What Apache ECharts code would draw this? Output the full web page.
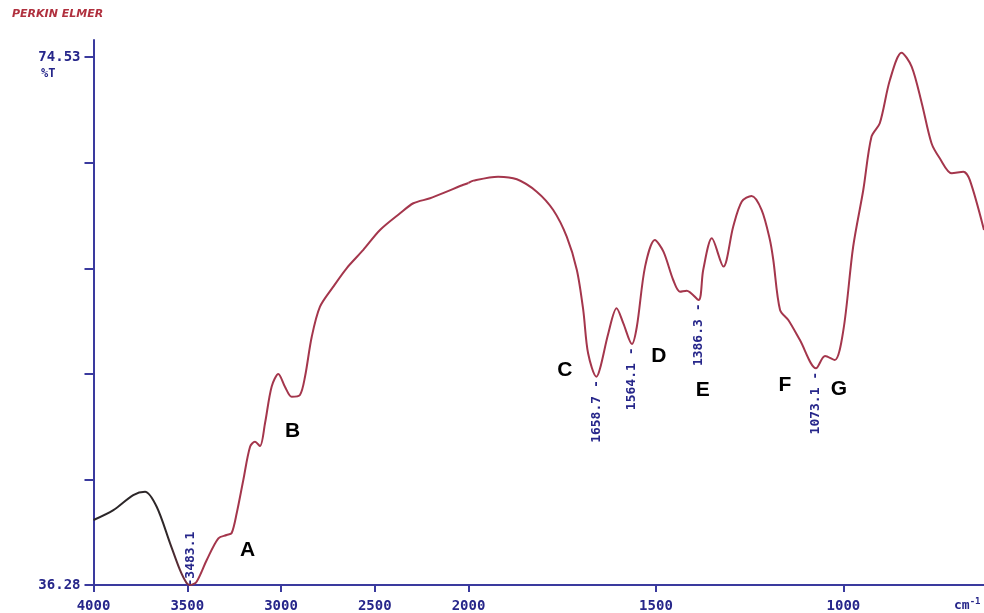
<!DOCTYPE html>
<html>
<head>
<meta charset="utf-8">
<title>IR spectrum</title>
<script src="https://cdn.jsdelivr.net/npm/echarts@6/dist/echarts.min.js"></script>
<style>
  html, body { margin: 0; padding: 0; background: #fff; }
  #chart { width: 984px; height: 613px; }
</style>
</head>
<body>
<div id="chart"></div>
<script>
// Spectrum trace: wavenumber (cm-1) and transmittance (%T)
const wavenumbers = [
  4000, 3894, 3788, 3725, 3663, 3592, 3539, 3503, 3450, 3396, 3334, 3290, 3263,
  3236, 3201, 3165, 3139, 3112, 3085, 3050, 3014, 2979, 2943, 2899, 2872, 2836,
  2792, 2721, 2650, 2561, 2472, 2365, 2294, 2205, 2116, 2045, 2000,
  1987, 1921, 1871, 1818, 1774, 1738, 1711, 1694, 1681, 1649, 1627, 1605, 1587,
  1551, 1529, 1503, 1480, 1454, 1436, 1418, 1374, 1351, 1320, 1294, 1271, 1245,
  1218, 1196, 1187, 1169, 1147, 1116, 1049, 1023, 1000, 974, 947, 925, 903, 876,
  845, 818, 791, 765, 743, 711, 680, 663, 625
];
const transmittance = [
  40.99, 41.71, 42.80, 43.04, 41.95, 39.32, 37.37, 36.42, 36.52, 38.09, 39.66, 39.90, 40.05,
  41.50, 43.89, 46.30, 46.66, 46.35, 48.02, 50.65, 51.57, 50.65, 49.92, 50.05, 51.37, 54.27,
  56.45, 57.90, 59.23, 60.56, 62.00, 63.21, 63.94, 64.30, 64.78, 65.19, 65.41,
  65.58, 65.87, 65.68, 64.78, 63.45, 61.52, 59.11, 56.21, 53.07, 51.98, 54.52, 56.33, 55.24,
  54.99, 59.35, 61.28, 60.43, 58.38, 57.53, 57.61, 59.11, 61.40, 59.35, 62.24, 64.06, 64.47,
  63.45, 61.28, 59.83, 56.21, 55.48, 54.03, 52.87, 52.58, 54.76, 60.79, 64.90, 68.77, 69.74, 72.87,
  74.85, 73.84, 71.19, 68.29, 67.20, 66.11, 66.23, 65.63, 62.00
];

// Labelled band minima
const peakWavenumbers = [3483.1, 1658.7, 1564.1, 1386.3, 1073.1];
const peakTransmittance = [36.28, 51.37, 53.74, 56.93, 51.98];

// Band letters and where they sit on the chart (cm-1, %T)
const bandLetters = ['A', 'B', 'C', 'D', 'E', 'F', 'G'];
const letterWavenumbers = [3178, 2938, 1743, 1492, 1375, 1156, 1012];
const letterTransmittance = [38.82, 47.46, 51.86, 52.87, 50.41, 50.77, 50.48];

// Axis ticks
const xTicksHigh = [4000, 3500, 3000, 2500];
const xTicksLow = [2000, 1500, 1000];
const yTicks = [36.28, 43.93, 51.58, 59.23, 66.88, 74.53];
const yTickLabels = [36.28, 74.53];

const Y_MIN = 36.28, Y_MAX = 75.77;
const SPLIT_WN = 2000;       // scale expands below 2000 cm-1
const LOW_END_WN = 625;

const AXIS_BLUE = '#3a3a9e';
const LABEL_BLUE = '#26268a';
const TRACE_RED = '#a4364c';

// merge the labelled minima into the trace
const trace = wavenumbers.map((w, i) => [w, transmittance[i]])
  .concat(peakWavenumbers.map((w, i) => [w, peakTransmittance[i]]))
  .sort((a, b) => b[0] - a[0]);
const traceHigh = trace.filter(p => p[0] >= SPLIT_WN);
const traceLow = trace.filter(p => p[0] <= SPLIT_WN);

const tickFont = {
  color: LABEL_BLUE, fontFamily: 'DejaVu Sans Mono', fontWeight: 'bold', fontSize: 14
};

const peakLabelBelow = {
  show: true, position: 'bottom', distance: 3, rotate: 90,
  align: 'right', verticalAlign: 'middle',
  color: LABEL_BLUE, fontFamily: 'DejaVu Sans Mono', fontWeight: 'bold', fontSize: 13,
  formatter: p => p.value[0].toFixed(1) + ' -'
};
const peakLabelAbove = Object.assign({}, peakLabelBelow, {
  position: 'top', distance: 1, align: 'left', offset: [-3, 0],
  formatter: p => '-' + p.value[0].toFixed(1)
});

function peakItems(high) {
  return peakWavenumbers
    .map((w, i) => ({ w, t: peakTransmittance[i] }))
    .filter(p => high ? p.w >= SPLIT_WN : p.w < SPLIT_WN)
    .map(p => ({
      value: [p.w, p.t],
      label: p.t <= Y_MIN ? peakLabelAbove : peakLabelBelow
    }));
}
function letterItems(high) {
  return bandLetters
    .map((name, i) => ({ name, value: [letterWavenumbers[i], letterTransmittance[i]] }))
    .filter(p => high ? p.value[0] >= SPLIT_WN : p.value[0] < SPLIT_WN);
}

const letterLabel = {
  show: true, position: 'inside', formatter: p => p.name,
  color: '#000', fontFamily: 'Liberation Sans', fontWeight: 'bold', fontSize: 21
};

// invisible anchor symbols that only carry text
const hiddenMark = { color: 'rgba(0,0,0,0)', opacity: 1 };

function xAxisFor(grid, min, max, ticks) {
  return {
    type: 'value', gridIndex: grid, min, max, inverse: true,
    axisLine: { show: true, lineStyle: { color: AXIS_BLUE, width: 2 } },
    axisTick: { show: true, customValues: ticks, length: 7, lineStyle: { color: AXIS_BLUE, width: 2 } },
    axisLabel: Object.assign({ customValues: ticks, margin: 14, formatter: v => String(v) }, tickFont),
    splitLine: { show: false }
  };
}

const chart = echarts.init(document.getElementById('chart'), null, { renderer: 'canvas' });
chart.setOption({
  animation: false,
  backgroundColor: '#ffffff',
  grid: [
    { left: 93.5, top: 40, width: 375, bottom: 28 },
    { left: 468.5, top: 40, right: 0, bottom: 28 }
  ],
  xAxis: [
    xAxisFor(0, SPLIT_WN, 4000, xTicksHigh),
    xAxisFor(1, LOW_END_WN, SPLIT_WN, xTicksLow)
  ],
  yAxis: [
    {
      type: 'value', gridIndex: 0, min: Y_MIN, max: Y_MAX,
      axisLine: { show: true, lineStyle: { color: AXIS_BLUE, width: 2 } },
      axisTick: { show: true, customValues: yTicks, length: 9, lineStyle: { color: AXIS_BLUE, width: 2 } },
      axisLabel: Object.assign({ customValues: yTickLabels, margin: 13, formatter: v => v.toFixed(2) }, tickFont),
      splitLine: { show: false }
    },
    { type: 'value', gridIndex: 1, min: Y_MIN, max: Y_MAX, show: false, splitLine: { show: false } }
  ],
  graphic: [
    {
      type: 'text', left: 12, top: 9,
      style: {
        text: 'PERKIN ELMER', fill: '#b0303e',
        font: 'italic bold 11px "DejaVu Sans"'
      }
    },
    {
      type: 'text', left: 41, top: 68,
      style: { text: '%T', fill: LABEL_BLUE, font: 'bold 12px "DejaVu Sans Mono"' }
    },
    {
      type: 'text', left: 954, top: 597,
      style: {
        text: '{a|cm}{b|-1}',
        rich: {
          a: { fill: LABEL_BLUE, font: 'bold 13px "DejaVu Sans Mono"', verticalAlign: 'bottom' },
          b: { fill: LABEL_BLUE, font: 'bold 9px "DejaVu Sans Mono"', verticalAlign: 'top', padding: [0, 0, 6, 0] }
        }
      }
    }
  ],
  series: [
    {
      type: 'line', xAxisIndex: 0, yAxisIndex: 0, data: traceHigh,
      showSymbol: false, smooth: 0.3, clip: false,
      lineStyle: {
        width: 2,
        color: new echarts.graphic.LinearGradient(0, 0, 1, 0, [
          { offset: 0, color: '#2a2628' },
          { offset: 0.2, color: '#2e2729' },
          { offset: 0.28, color: TRACE_RED },
          { offset: 1, color: TRACE_RED }
        ])
      }
    },
    {
      type: 'line', xAxisIndex: 1, yAxisIndex: 1, data: traceLow,
      showSymbol: false, smooth: 0.3, clip: false,
      lineStyle: { width: 2, color: TRACE_RED }
    },
    {
      type: 'scatter', xAxisIndex: 0, yAxisIndex: 0, data: peakItems(true),
      symbolSize: 1, itemStyle: hiddenMark, clip: false, silent: true
    },
    {
      type: 'scatter', xAxisIndex: 1, yAxisIndex: 1, data: peakItems(false),
      symbolSize: 1, itemStyle: hiddenMark, clip: false, silent: true
    },
    {
      type: 'scatter', xAxisIndex: 0, yAxisIndex: 0, data: letterItems(true),
      symbolSize: 1, itemStyle: hiddenMark, label: letterLabel, silent: true
    },
    {
      type: 'scatter', xAxisIndex: 1, yAxisIndex: 1, data: letterItems(false),
      symbolSize: 1, itemStyle: hiddenMark, label: letterLabel, silent: true
    }
  ]
});
</script>
</body>
</html>
